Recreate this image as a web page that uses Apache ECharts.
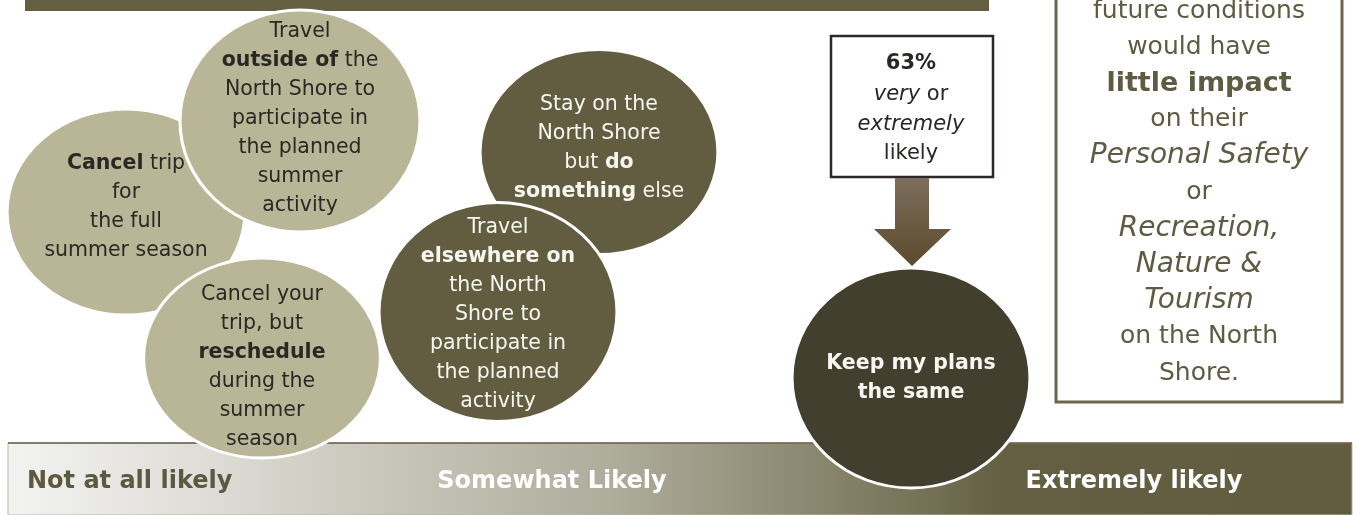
<!DOCTYPE html>
<html><head><meta charset="utf-8">
<script src="https://cdn.jsdelivr.net/npm/echarts@6/dist/echarts.min.js"></script>
<style>html,body{margin:0;padding:0;background:#fff}#c{width:1357px;height:515px}</style>
</head><body><div id="c"></div>
<script>
// ---- data ----
const bubbleLabels = [
  '{b|Cancel} trip\nfor\nthe full\nsummer season',
  'Travel\n{b|outside of} the\nNorth Shore to\nparticipate in\nthe planned\nsummer\nactivity',
  'Cancel your\ntrip, but\n{b|reschedule}\nduring the\nsummer\nseason',
  'Stay on the\nNorth Shore\nbut {b|do}\n{b|something} else',
  'Travel\n{b|elsewhere on}\nthe North\nShore to\nparticipate in\nthe planned\nactivity',
  '{b|Keep my plans}\n{b|the same}'
];
// position of each bubble along the likelihood scale (x) and stacking height (y)
const bubbleX = [126, 300, 262, 599, 498, 911];
const bubbleY = [212, 121, 358, 152, 312, 378];
const bubbleTone = ['light', 'light', 'light', 'dark', 'dark', 'darkest'];
const scaleLabels = ['Not at all likely', 'Somewhat Likely', 'Extremely likely'];
const calloutLines = ['{p|63%}', '{i|very} or', '{i|extremely}', 'likely'];
const noteLines = [
  'future conditions', 'would have', '{b|little impact}', 'on their',
  '{i|Personal Safety}', 'or', '{i|Recreation,}', '{i|Nature &}', '{i|Tourism}',
  'on the North', 'Shore.'
];

// ---- styles ----
const FONT = 'DejaVu Sans';
const bubbleSize = [[238, 206], [240, 222], [237, 200], [238, 205], [238, 219], [238, 220]];
const labelOffset = [[0, -5], [0, -2], [0, 9], [0, -4], [0, 3], [0, 0]];
const toneFill = { light: '#b9b698', dark: '#625d41', darkest: '#433f2e' };
const toneText = { light: '#2b2824', dark: '#f7f6f0', darkest: '#f7f6f0' };

// one series per bubble so each bubble (and its text) stacks over the previous one
const series = bubbleLabels.map((t, i) => {
  const tone = bubbleTone[i];
  const col = toneText[tone];
  return {
    type: 'scatter', symbol: 'circle', z: 3 + i, silent: true,
    emphasis: { disabled: true },
    data: [{
      value: [bubbleX[i], bubbleY[i]],
      symbolSize: bubbleSize[i],
      itemStyle: { color: toneFill[tone], borderColor: '#ffffff', borderWidth: 3, opacity: 1 },
      label: {
        show: true, position: 'inside', formatter: t, offset: labelOffset[i],
        color: col, fontFamily: FONT, fontSize: 20.5, lineHeight: 29, align: 'center',
        rich: { b: { color: col, fontFamily: FONT, fontSize: 20.5, lineHeight: 29, fontWeight: 'bold' } }
      }
    }]
  };
});

const chart = echarts.init(document.getElementById('c'), null, { renderer: 'canvas' });

const barX = 8, barY = 443, barW = 1344, barH = 72;
const labelPos = [[27, 'left'], [552, 'center'], [1134, 'center']];
const labelCol = ['#5b5940', '#ffffff', '#ffffff'];

const graphics = [
  // top banner strip
  { type: 'rect', z: 0, shape: { x: 25, y: 0, width: 964, height: 11 }, style: { fill: '#645f40' } },
  // likelihood scale bar
  { type: 'rect', z: 0, shape: { x: barX, y: barY, width: barW, height: barH },
    style: { fill: { type: 'linear', x: 0, y: 0, x2: 1, y2: 0, colorStops: [
      { offset: 0, color: '#f3f3f2' }, { offset: 0.15, color: '#dddcd6' },
      { offset: 0.3, color: '#c4c3b6' }, { offset: 0.45, color: '#aeac9b' },
      { offset: 0.58, color: '#8f8c75' }, { offset: 0.68, color: '#767258' },
      { offset: 0.74, color: '#645f42' }, { offset: 1, color: '#625d40' }] },
      stroke: '#b9b5ad', lineWidth: 1 } },
  { type: 'line', z: 0, shape: { x1: barX, y1: barY, x2: barX + barW, y2: barY }, style: { stroke: '#6b5c4a', lineWidth: 1.5 } },
  // callout box
  { type: 'rect', z: 20, shape: { x: 831, y: 36, width: 162, height: 141 }, style: { fill: '#ffffff', stroke: '#2d2827', lineWidth: 2.5 } },
  { type: 'text', z: 21, x: 911, y: 47, style: {
      text: calloutLines.join('\n'), align: 'center', verticalAlign: 'top',
      fill: '#2b2624', font: '21px "' + FONT + '"', lineHeight: 29.5,
      rich: {
        p: { fontFamily: FONT, fontSize: 21, fontWeight: 'bold', lineHeight: 33, fill: '#2b2624' },
        i: { fontFamily: FONT, fontSize: 21, fontStyle: 'italic', lineHeight: 29.5, fill: '#2b2624' }
      } } },
  // arrow
  { type: 'polygon', z: 20, shape: { points: [[895, 178], [929, 178], [929, 229], [951, 229], [912, 266], [874, 229], [895, 229]] },
    style: { fill: { type: 'linear', x: 0, y: 0, x2: 0, y2: 1, colorStops: [
      { offset: 0, color: '#7b6e5c' }, { offset: 1, color: '#5d4a2d' }] } } },
  // note box
  { type: 'rect', z: 20, shape: { x: 1056, y: -10, width: 286, height: 412 }, style: { fill: '#ffffff', stroke: '#6b6749', lineWidth: 3 } },
  { type: 'text', z: 21, x: 1199, y: -7, style: {
      text: noteLines.join('\n'), align: 'center', verticalAlign: 'top',
      fill: '#5e5b42', font: '25px "' + FONT + '"', lineHeight: 36.2,
      rich: {
        b: { fontFamily: FONT, fontSize: 27, fontWeight: 'bold', lineHeight: 36.2, fill: '#5e5b42' },
        i: { fontFamily: FONT, fontSize: 28, fontStyle: 'italic', lineHeight: 36.2, fill: '#5e5b42' }
      } } }
];
scaleLabels.forEach((t, i) => {
  graphics.push({ type: 'text', z: 1, x: labelPos[i][0], y: barY + 39, style: {
    text: t, align: labelPos[i][1], verticalAlign: 'middle', fill: labelCol[i],
    font: 'bold 24px "' + FONT + '"' } });
});

chart.setOption({
  animation: false,
  backgroundColor: '#ffffff',
  grid: { left: 0, right: 0, top: 0, bottom: 0 },
  xAxis: { type: 'value', min: 0, max: 1357, show: false },
  yAxis: { type: 'value', min: 0, max: 515, inverse: true, show: false },
  graphic: graphics,
  series: series
});
</script></body></html>
